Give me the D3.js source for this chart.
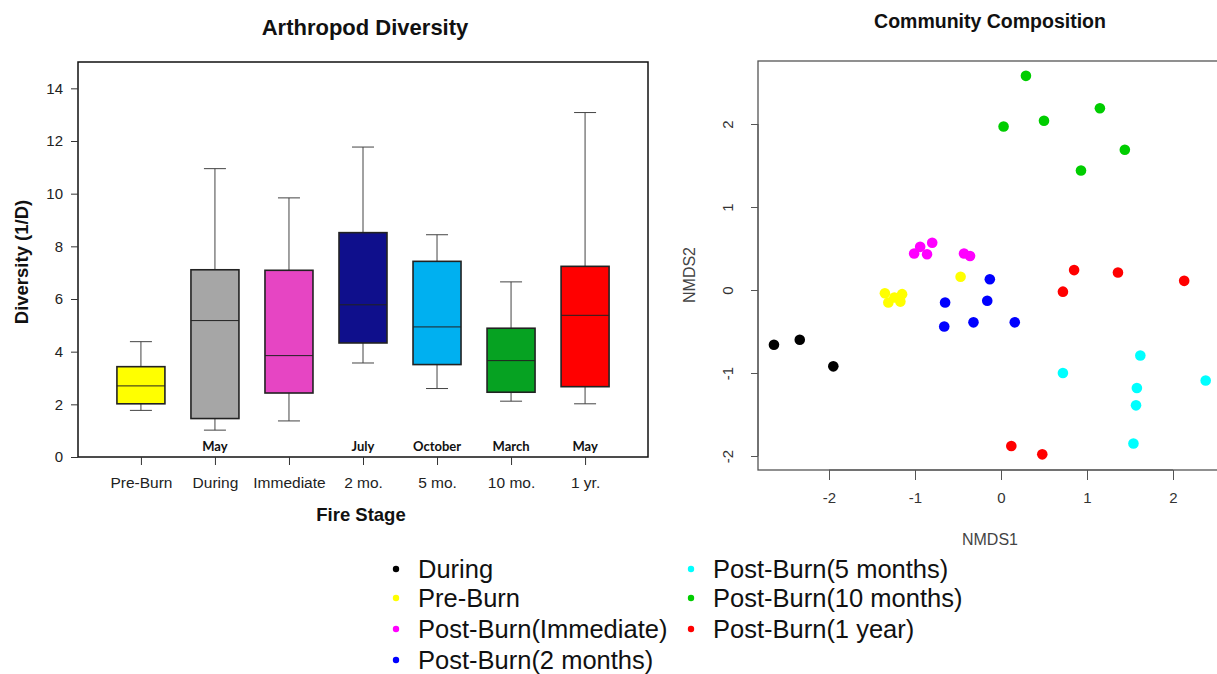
<!DOCTYPE html>
<html>
<head>
<meta charset="utf-8">
<script src="https://cdn.jsdelivr.net/npm/d3@7"></script>
<style>
  html, body { margin: 0; padding: 0; background: #fff; }
  svg { display: block; font-family: "Liberation Sans", Arial, sans-serif; }
</style>
</head>
<body>
<svg id="chart" width="1217" height="674"></svg>
<script>
// ---- Box plot data: diversity (1/D) by fire stage ----
const stages   = ["Pre-Burn", "During", "Immediate", "2 mo.", "5 mo.", "10 mo.", "1 yr."];
const months   = ["", "May", "", "July", "October", "March", "May"];
const boxColors = ["#FFFF00", "#A6A6A6", "#E645C3", "#0F0F8C", "#00B0F0", "#06A222", "#FF0000"];
const whiskerLow  = [1.77, 1.02, 1.37, 3.57, 2.60, 2.12, 2.02];
const q1          = [2.02, 1.46, 2.43, 4.33, 3.51, 2.46, 2.67];
const medians     = [2.70, 5.18, 3.85, 5.78, 4.94, 3.66, 5.38];
const q3          = [3.43, 7.11, 7.09, 8.52, 7.43, 4.89, 7.24];
const whiskerHigh = [4.38, 10.95, 9.84, 11.77, 8.44, 6.65, 13.08];
const diversityTicks = [0, 2, 4, 6, 8, 10, 12, 14];

// ---- NMDS ordination data ----
const groups = ["During", "Pre-Burn", "Post-Burn(Immediate)", "Post-Burn(2 months)",
                "Post-Burn(5 months)", "Post-Burn(10 months)", "Post-Burn(1 year)"];
const groupColors = ["#000000", "#FFFF00", "#FF00FF", "#0000FF", "#00FFFF", "#00CD00", "#FF0000"];
const nmdsDuring    = [[-2.64, -0.66], [-2.34, -0.60], [-1.95, -0.92]];
const nmdsPreBurn   = [[-1.35, -0.04], [-1.31, -0.15], [-1.24, -0.09], [-1.15, -0.05], [-1.17, -0.14], [-0.47, 0.16]];
const nmdsImmediate = [[-1.01, 0.44], [-0.94, 0.52], [-0.86, 0.43], [-0.80, 0.57], [-0.43, 0.44], [-0.36, 0.41]];
const nmds2Months   = [[-0.13, 0.13], [-0.65, -0.15], [-0.16, -0.13], [-0.66, -0.44], [-0.32, -0.39], [0.16, -0.39]];
const nmds5Months   = [[1.62, -0.79], [0.72, -1.00], [2.38, -1.09], [1.58, -1.18], [1.57, -1.39], [1.54, -1.85]];
const nmds10Months  = [[0.29, 2.58], [0.03, 1.97], [0.50, 2.04], [1.15, 2.19], [1.44, 1.69], [0.93, 1.44]];
const nmds1Year     = [[0.85, 0.24], [1.36, 0.21], [2.13, 0.11], [0.72, -0.02], [0.12, -1.88], [0.48, -1.98]];
const nmdsTicksX = [-2, -1, 0, 1, 2];
const nmdsTicksY = [-2, -1, 0, 1, 2];

const svg = d3.select("#chart");
const plainNum = d => String(d);   // ASCII hyphen for negatives

// =============== Left panel: box plot ===============
const L = { left: 78, right: 648, top: 62, bottom: 457 };
const x = d3.scalePoint().domain(stages).range([L.left, L.right]).padding(0.85);
const y = d3.scaleLinear().domain([0, 15]).range([L.bottom, L.top]);

const boxes = stages.map((s, i) => ({
  stage: s, month: months[i], color: boxColors[i],
  lo: whiskerLow[i], q1: q1[i], med: medians[i], q3: q3[i], hi: whiskerHigh[i]
}));

const boxW = 48, capW = 22;
const gBox = svg.append("g");
const b = gBox.selectAll("g.box").data(boxes).join("g").attr("class", "box");
// whiskers
b.append("line").attr("x1", d => x(d.stage)).attr("x2", d => x(d.stage))
  .attr("y1", d => y(d.q3)).attr("y2", d => y(d.hi)).attr("stroke", "#444").attr("stroke-width", 1);
b.append("line").attr("x1", d => x(d.stage)).attr("x2", d => x(d.stage))
  .attr("y1", d => y(d.q1)).attr("y2", d => y(d.lo)).attr("stroke", "#444").attr("stroke-width", 1);
b.append("line").attr("x1", d => x(d.stage) - capW / 2).attr("x2", d => x(d.stage) + capW / 2)
  .attr("y1", d => y(d.hi)).attr("y2", d => y(d.hi)).attr("stroke", "#444").attr("stroke-width", 1);
b.append("line").attr("x1", d => x(d.stage) - capW / 2).attr("x2", d => x(d.stage) + capW / 2)
  .attr("y1", d => y(d.lo)).attr("y2", d => y(d.lo)).attr("stroke", "#444").attr("stroke-width", 1);
// box
b.append("rect").attr("x", d => x(d.stage) - boxW / 2).attr("width", boxW)
  .attr("y", d => y(d.q3)).attr("height", d => y(d.q1) - y(d.q3))
  .attr("fill", d => d.color).attr("stroke", "#222").attr("stroke-width", 1.6);
// median
b.append("line").attr("x1", d => x(d.stage) - boxW / 2).attr("x2", d => x(d.stage) + boxW / 2)
  .attr("y1", d => y(d.med)).attr("y2", d => y(d.med)).attr("stroke", "#222").attr("stroke-width", 1);
// month labels
b.append("text").attr("x", d => x(d.stage)).attr("y", L.bottom - 6)
  .attr("text-anchor", "middle").attr("font-family", "Lato, 'Open Sans', sans-serif")
  .attr("font-weight", "bold").attr("font-size", 13).attr("fill", "#111").text(d => d.month);

// frame
svg.append("rect").attr("x", L.left).attr("y", L.top)
  .attr("width", L.right - L.left).attr("height", L.bottom - L.top)
  .attr("fill", "none").attr("stroke", "#111").attr("stroke-width", 1.5);

// axes
const yAxis = svg.append("g").attr("transform", `translate(${L.left},0)`)
  .call(d3.axisLeft(y).tickValues(diversityTicks).tickSize(7).tickPadding(8));
yAxis.select(".domain").remove();
yAxis.selectAll("text").attr("font-size", 15).attr("fill", "#222")
  .attr("font-family", "'Liberation Sans', Arial, sans-serif");
yAxis.selectAll("line").attr("stroke", "#333");

const xAxis = svg.append("g").attr("transform", `translate(0,${L.bottom})`)
  .call(d3.axisBottom(x).tickSize(8).tickPadding(12));
xAxis.select(".domain").remove();
xAxis.selectAll("text").attr("font-size", 15.5).attr("fill", "#222")
  .attr("font-family", "'Liberation Sans', Arial, sans-serif");
xAxis.selectAll("line").attr("stroke", "#333");

svg.append("text").attr("x", 365).attr("y", 35).attr("text-anchor", "middle")
  .attr("font-weight", "bold").attr("font-size", 22).attr("fill", "#111").text("Arthropod Diversity");
svg.append("text").attr("x", 361).attr("y", 521).attr("text-anchor", "middle")
  .attr("font-weight", "bold").attr("font-size", 18.5).attr("fill", "#111").text("Fire Stage");
svg.append("text").attr("transform", "translate(28,262) rotate(-90)").attr("text-anchor", "middle")
  .attr("font-weight", "bold").attr("font-size", 18.5).attr("fill", "#111").text("Diversity (1/D)");

// =============== Right panel: NMDS scatter ===============
const R = { left: 758, right: 1260, top: 61, bottom: 470 };
const sx = d3.scaleLinear().domain([-2, 2]).range([829, 1173]);
const sy = d3.scaleLinear().domain([-2, 2]).range([456, 124]);

const series = [nmdsDuring, nmdsPreBurn, nmdsImmediate, nmds2Months, nmds5Months, nmds10Months, nmds1Year];
const pts = series.flatMap((arr, gi) => arr.map(p => ({ x: p[0], y: p[1], color: groupColors[gi] })));

svg.append("rect").attr("x", R.left).attr("y", R.top)
  .attr("width", R.right - R.left).attr("height", R.bottom - R.top)
  .attr("fill", "none").attr("stroke", "#555").attr("stroke-width", 1.3);

svg.append("g").selectAll("circle").data(pts).join("circle")
  .attr("cx", d => sx(d.x)).attr("cy", d => sy(d.y)).attr("r", 5.3)
  .attr("fill", d => d.color);

const nx = svg.append("g").attr("transform", `translate(0,${R.bottom})`)
  .call(d3.axisBottom(sx).tickValues(nmdsTicksX).tickFormat(plainNum).tickSize(10).tickPadding(12));
nx.select(".domain").attr("d", `M${sx(-2)},0H${sx(2)}`).attr("stroke", "#555");
nx.selectAll("line").attr("stroke", "#555");
nx.selectAll("text").attr("font-size", 15).attr("fill", "#333")
  .attr("font-family", "'Liberation Sans', Arial, sans-serif");

const ny = svg.append("g").attr("transform", `translate(${R.left},0)`)
  .call(d3.axisLeft(sy).tickValues(nmdsTicksY).tickFormat(plainNum).tickSize(7).tickPadding(0));
ny.select(".domain").attr("d", `M0,${sy(-2)}V${sy(2)}`).attr("stroke", "#555");
ny.selectAll("line").attr("stroke", "#555");
ny.selectAll("text").attr("font-size", 15).attr("fill", "#333")
  .attr("font-family", "'Liberation Sans', Arial, sans-serif")
  .attr("text-anchor", "middle").attr("x", null)
  .attr("transform", "translate(-30,0) rotate(-90)").attr("dy", "0.35em");

svg.append("text").attr("x", 990).attr("y", 28).attr("text-anchor", "middle")
  .attr("font-weight", "bold").attr("font-size", 19.5).attr("fill", "#111").text("Community Composition");
svg.append("text").attr("x", 990).attr("y", 545).attr("text-anchor", "middle")
  .attr("font-size", 16).attr("fill", "#444").text("NMDS1");
svg.append("text").attr("transform", "translate(695,275) rotate(-90)").attr("text-anchor", "middle")
  .attr("font-size", 16).attr("fill", "#444").text("NMDS2");

// =============== Legend ===============
const legendCols = [{ x: 396, rows: [0, 1, 2, 3] }, { x: 691, rows: [4, 5, 6] }];
const rowY = [569, 598, 629, 660];
const legend = svg.append("g");
legendCols.forEach(col => {
  col.rows.forEach((gi, r) => {
    legend.append("circle").attr("cx", col.x).attr("cy", rowY[r]).attr("r", 3.2).attr("fill", groupColors[gi]);
    legend.append("text").attr("x", col.x + 22).attr("y", rowY[r]).attr("dy", "0.35em")
      .attr("font-size", 25.5).attr("fill", "#111").text(groups[gi]);
  });
});
</script>
</body>
</html>
